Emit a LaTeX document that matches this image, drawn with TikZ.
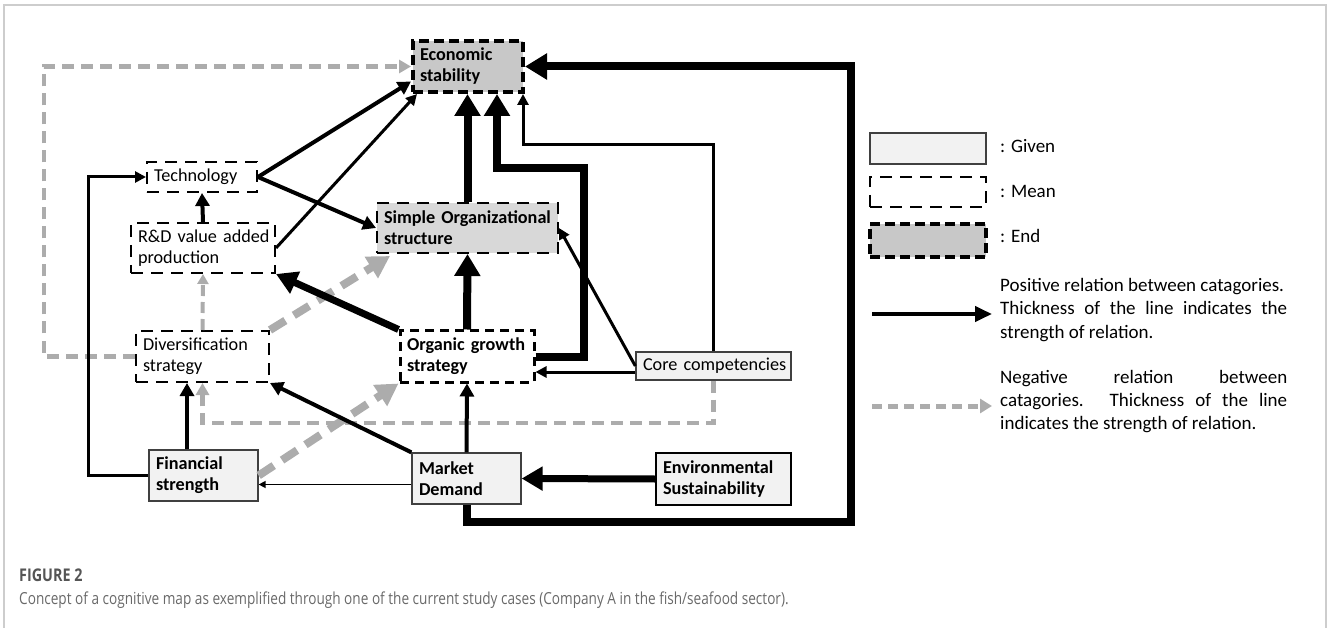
\documentclass[tikz,border=0pt]{standalone}
\usepackage{fontspec}
\setmainfont{Carlito}
\newfontfamily\capfont[FakeStretch=0.82]{Open Sans}
\usetikzlibrary{arrows.meta,calc}
\definecolor{negc}{RGB}{172,172,172}
\definecolor{givenfill}{RGB}{242,242,242}
\definecolor{endfill}{RGB}{200,200,200}
\definecolor{simplefill}{RGB}{216,216,216}
\definecolor{framec}{RGB}{205,205,205}
\definecolor{capc}{RGB}{105,105,105}
\definecolor{capd}{RGB}{85,85,85}
\begin{document}
\begin{tikzpicture}[x=1pt,y=-1pt,
  box/.style={inner xsep=7pt, inner ysep=0pt, align=left, font=\fontsize{18.2}{21}\selectfont},
  givenbox/.style={box, draw=black!75, line width=1.3pt, fill=givenfill},
  envbox/.style={box, draw=black, line width=2.4pt, fill=givenfill},
  meanbox/.style={box, draw=black, line width=2pt, dash pattern=on 12pt off 8pt, fill=white},
  orgbox/.style={box, draw=black, line width=3pt, dash pattern=on 9pt off 6pt, fill=white},
  simplebox/.style={meanbox, fill=simplefill},
  endbox/.style={box, draw=black, line width=4pt, dash pattern=on 10pt off 5pt, fill=endfill},
  arrA/.style={line width=8pt, -{Triangle[length=22pt,width=25pt]}},
  arrAs/.style={line width=7pt, -{Triangle[length=21pt,width=23pt]}},
  arrB/.style={line width=4pt, -{Triangle[length=13pt,width=14pt]}},
  arrC/.style={line width=3pt, -{Triangle[length=11pt,width=11pt]}},
  arrD/.style={line width=1.5pt, -{Triangle[length=7pt,width=7pt]}},
  negA/.style={draw=negc, line width=8pt, dash pattern=on 18pt off 10pt, -{Triangle[length=22pt,width=24pt]}},
  negB/.style={draw=negc, line width=4.5pt, dash pattern=on 12pt off 7pt, -{Triangle[length=12pt,width=13pt]}},
  negC/.style={draw=negc, line width=4pt, dash pattern=on 11pt off 6pt, -{Triangle[length=10pt,width=11pt]}},
  legtext/.style={anchor=base west, inner sep=0pt, font=\fontsize{19}{23}\selectfont},
]
\useasboundingbox (0,0) rectangle (1328,628);
\draw[framec, line width=1.2pt] (4,628) -- (4,5) -- (1326,5) -- (1326,628);

% nodes
\node[endbox, minimum width=110, minimum height=51, text width=96pt] (econ) at (468,66.5) {\textbf{Economic}\\\textbf{stability}};
\node[meanbox, minimum width=110, minimum height=30, text width=96pt] (tech) at (202,177) {Technology};
\node[simplebox, minimum width=181, minimum height=50, text width=167pt] (simple) at (467.5,228) {\textbf{\mbox{Simple Organizational}}\\\textbf{structure}};
\node[meanbox, minimum width=144, minimum height=50, text width=130pt] (rd) at (203,248) {\mbox{R\&D value added}\\production};
\node[meanbox, minimum width=133, minimum height=51, text width=119pt] (div) at (202.5,356.5) {Diversification\\strategy};
\node[orgbox, minimum width=134, minimum height=51, text width=120pt] (org) at (467,356.5) {\textbf{\mbox{Organic growth}}\\\textbf{strategy}};
\node[givenbox, minimum width=155, minimum height=28, text width=141pt] (core) at (713.5,366) {\mbox{Core competencies}};
\node[givenbox, minimum width=109, minimum height=51, text width=95pt] (fin) at (203.5,475.5) {\textbf{Financial}\\\textbf{strength}};
\node[givenbox, minimum width=109, minimum height=51, text width=95pt] (market) at (466.5,478.5) {\textbf{Market}\\\textbf{Demand}};
\node[envbox, minimum width=135, minimum height=52, text width=121pt] (env) at (723.5,479) {\textbf{\mbox{Environmental}}\\\textbf{Sustainability}};

% negative connectors
\draw[negB] (div.west) -- ++(-91,0) |- (econ.west);
\draw[negC] (div.north) -- (rd.south);
\draw[negA] (div.north east) -- ($(simple.south west)+(14,2)$);
\draw[negB] (core.south) -- (core.south |- 0,423) -| (div.south);
\draw[negA] (fin.east) -- (org.south west);

% positive connectors
\draw[arrC] (fin.west) -- ++(-60,0) |- (tech.west);
\draw[arrB] (tech.east) -- ($(econ.west)+(0,15)$);
\draw[arrC] (rd.east) -- ($(econ.south west)+(6,0)$);
\draw[arrB] (tech.east) -- (simple.west);
\draw[arrB] (rd.north) -- (tech.south);
\draw[arrAs] (org.north west) -- (rd.south east);
\draw[arrA] (org.north) -- (simple.south);
\draw[arrA] (simple.north) -- (simple.north |- econ.south);
\draw[arrA] (org.east) -| (584,168) -| (econ.south -| 497,0);
\draw[arrC] (core.north) |- (523,145) -- (523,0 |- econ.south);
\draw[arrC] (core.west) -- (simple.east);
\coordinate (cw) at ($(core.west)+(0,6)$);
\draw[arrC] (cw) -- (cw -| org.east);
\draw[arrB] (187,0 |- fin.north) -- (187,0 |- div.south);
\coordinate (mw) at ($(market.west)+(0,6)$);
\draw[arrD] (mw) -- (mw -| fin.east);
\draw[arrB] (market.north west) -- (div.south east);
\draw[arrB] (market.north) -- (org.south);
\draw[arrAs] (env.west) -- (market.east);
\draw[arrA] (market.south) |- (851,522) |- (econ.east);

% legend
\node[givenbox, minimum width=116, minimum height=31, inner sep=0pt] (lg) at (928,148.5) {};
\node[meanbox, minimum width=116, minimum height=30, inner sep=0pt] (lm) at (928,192) {};
\node[endbox, minimum width=116, minimum height=33, inner sep=0pt] (le) at (928,240.5) {};
\node[legtext] (tg) at (1000,153) {: Given};
\node[legtext] (tm) at (1000,198) {: Mean};
\node[legtext] (te) at (1000,243) {: End};
\node[legtext] (p1) at (1000,292) {Positive relation between catagories.};
\node[legtext] (p2) at (1000,315) {\makebox[287pt][s]{Thickness of the line indicates the}};
\node[legtext] (p3) at (1000,338) {strength of relation.};
\node[legtext] (n1) at (1000,383) {\makebox[287pt][s]{Negative relation between}};
\node[legtext] (n2) at (1000,406) {\makebox[287pt][s]{catagories. Thickness of the line}};
\node[legtext] (n3) at (1000,429) {indicates the strength of relation.};
\coordinate (lpa) at (872,314);
\coordinate (lpb) at (992,314);
\draw[line width=4pt, -{Triangle[length=17pt,width=15pt]}] (lpa) -- (lpb);
\coordinate (lna) at (872,406);
\coordinate (lnb) at (992,406);
\draw[draw=negc, line width=5pt, dash pattern=on 10pt off 6pt, -{Triangle[length=12pt,width=14pt]}] (lna) -- (lnb);

% caption
\node[anchor=base west, inner sep=0pt, text=capd, font=\capfont\bfseries\fontsize{17.5}{20}\selectfont] (fig) at (19,581) {FIGURE 2};
\node[anchor=base west, inner sep=0pt, text=capc, font=\capfont\fontsize{16.6}{20}\selectfont] (cap) at (19,604) {Concept of a cognitive map as exemplified through one of the current study cases (Company A in the fish/seafood sector).};
\end{tikzpicture}
\end{document}
